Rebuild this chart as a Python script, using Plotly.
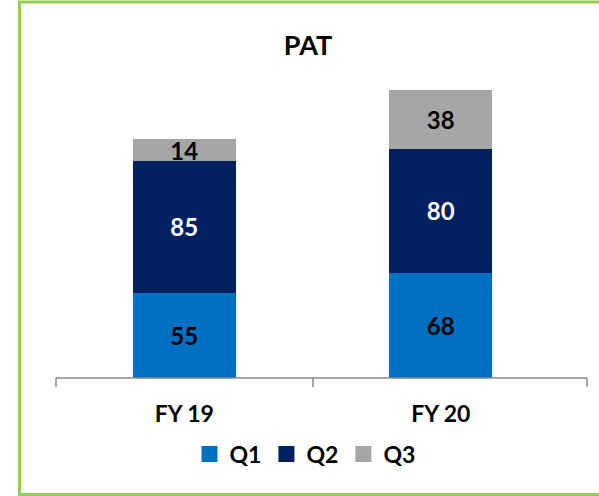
import plotly.graph_objects as go

categories = ["FY 19", "FY 20"]
series_names = ["Q1", "Q2", "Q3"]
q1 = [55, 68]
q2 = [85, 80]
q3 = [14, 38]
colors = ["#0070C0", "#002060", "#A6A6A6"]
label_colors = ["#000000", "#FFFFFF", "#000000"]

FONT = "Lato"
fig = go.Figure()
for name, vals, c, lc in zip(series_names, [q1, q2, q3], colors, label_colors):
    fig.add_trace(go.Bar(
        x=categories, y=vals, name=name, marker_color=c, marker_line_width=0,
        text=["<b>%d</b>" % v for v in vals], textposition="inside", insidetextanchor="middle",
        constraintext="none", textangle=0,
        textfont=dict(family=FONT, size=24, color=lc),
        width=0.4, showlegend=False,
    ))
# legend entries (square swatches)
for name, c in zip(series_names, colors):
    fig.add_trace(go.Scatter(
        x=[None], y=[None], mode="markers", name="<b>%s</b>" % name,
        marker=dict(symbol="square", size=16, color=c), showlegend=True,
    ))

W, H = 599, 496
L, R, T, B = 56, 30, 68, 118
pw, ph = W - L - R, H - T - B
def px(x): return (x - L) / pw
def py(y): return (H - B - y) / ph

green = dict(color="#92D050", width=3)
shapes = [
    dict(type="line", xref="paper", yref="paper", x0=px(19.5), x1=px(19.5), y0=py(494.5), y1=py(2), line=green),
    dict(type="line", xref="paper", yref="paper", x0=px(18), x1=px(599), y0=py(2), y1=py(2), line=green),
    dict(type="line", xref="paper", yref="paper", x0=px(18), x1=px(599), y0=py(494.5), y1=py(494.5), line=green),
    dict(type="line", xref="paper", yref="paper", x0=0, x1=px(587), y0=0, y1=0,
         line=dict(color="#898989", width=1.5)),
]
for tx in [56, 313, 587]:
    shapes.append(dict(type="line", xref="paper", yref="paper", x0=px(tx), x1=px(tx), y0=0, y1=py(387),
                       line=dict(color="#898989", width=1.5)))

fig.update_layout(
    width=W, height=H, barmode="stack",
    margin=dict(l=L, r=R, t=T, b=B),
    paper_bgcolor="white", plot_bgcolor="white",
    title=dict(text="<b>PAT</b>", x=308 / W, xanchor="center", y=1 - 46 / H, yanchor="middle",
               yref="container", font=dict(family=FONT, size=27, color="#000000")),
    xaxis=dict(range=[-0.5, 1.5], showline=False, showgrid=False, ticks="",
               tickfont=dict(family=FONT, size=23, color="#000000", weight="bold"),
               ticklabelstandoff=20),
    yaxis=dict(range=[0, 200], visible=False, showgrid=False),
    legend=dict(orientation="h", x=px(305), xanchor="center", y=py(454), yanchor="middle",
                font=dict(family=FONT, size=23, color="#000000"),
                itemwidth=30, traceorder="normal"),
    shapes=shapes,
    showlegend=True,
)
fig.write_html("out.html", config={"displayModeBar": False},
               post_script="document.body.style.margin='0px';document.body.style.overflow='hidden';")
